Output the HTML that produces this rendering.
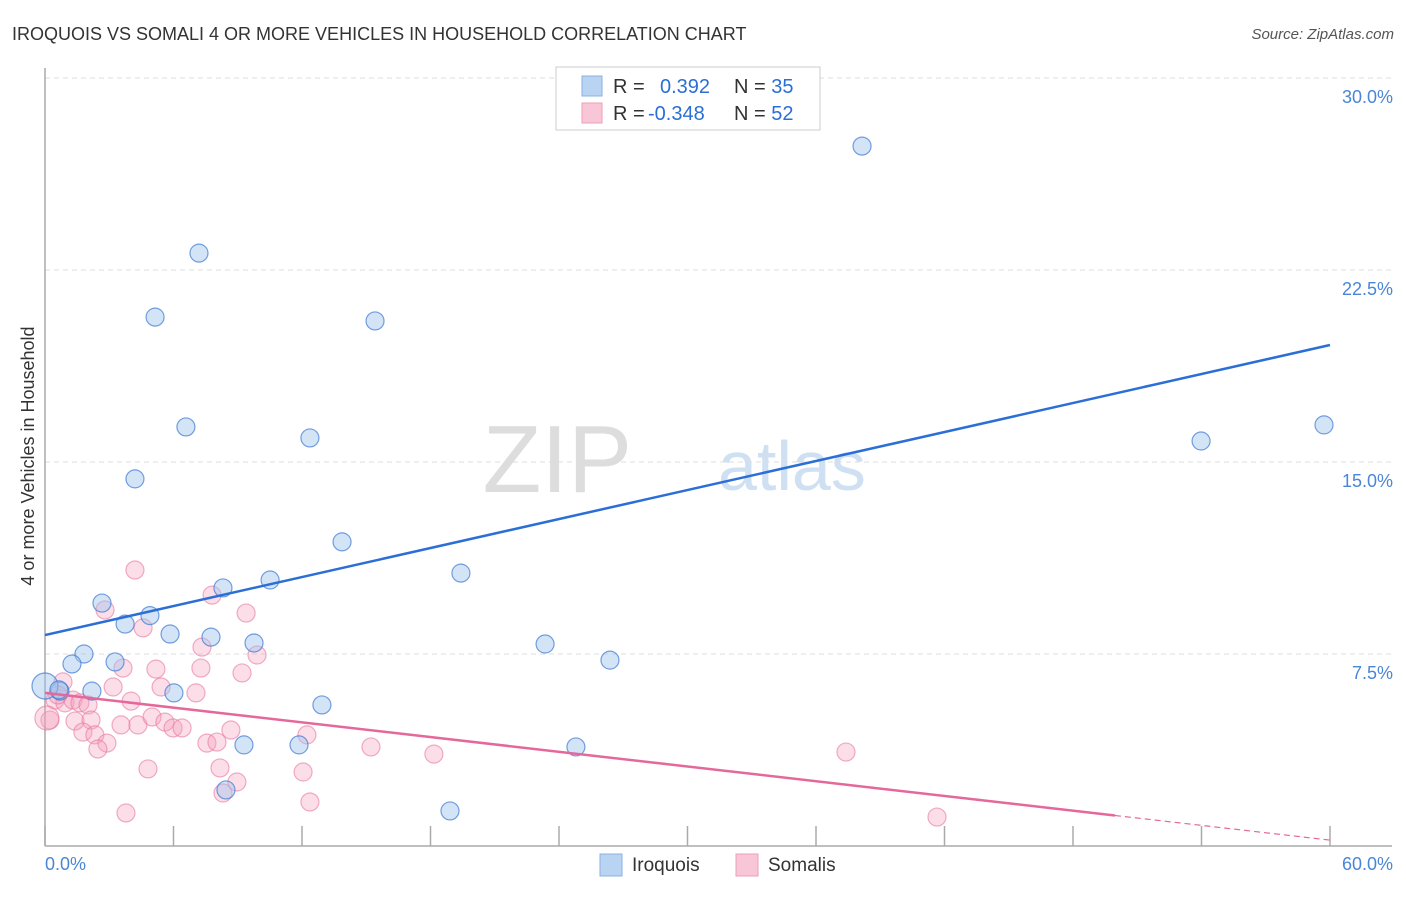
<!DOCTYPE html>
<html><head><meta charset="utf-8"><style>
body{margin:0;background:#fff;font-family:"Liberation Sans",sans-serif}
svg text{font-family:"Liberation Sans",sans-serif}
</style></head><body>
<svg id="chart" width="1406" height="892">
<text x="12" y="40" font-size="18" fill="#333">IROQUOIS VS SOMALI 4 OR MORE VEHICLES IN HOUSEHOLD CORRELATION CHART</text>
<text x="1394" y="39" font-size="15" fill="#555" text-anchor="end" font-style="italic">Source: ZipAtlas.com</text>
<text x="632" y="492" font-size="96" fill="#ddd" text-anchor="end" font-family="Liberation Serif">ZIP</text>
<text x="718" y="490" font-size="70" fill="#cfe0f3">atlas</text>
<text transform="translate(34,456) rotate(-90)" font-size="18" fill="#333" text-anchor="middle">4 or more Vehicles in Household</text>
<g id="grid"></g><g id="axes"></g><g id="pts"></g><g id="trends"></g>
<g>
<rect x="556" y="67" width="264" height="63" fill="#fff" stroke="#ccc"/>
<rect x="582" y="76" width="20" height="20" fill="#b9d3f3" stroke="#8ab0e0"/>
<rect x="582" y="103" width="20" height="20" fill="#f8c6d6" stroke="#eba0b8"/>
<text x="613" y="93" font-size="20" fill="#333">R = <tspan x="660" fill="#2b6fd6">0.392</tspan><tspan x="734" fill="#333">N = </tspan><tspan fill="#2b6fd6">35</tspan></text>
<text x="613" y="120" font-size="20" fill="#333">R = <tspan x="648" fill="#2b6fd6">-0.348</tspan><tspan x="734" fill="#333">N = </tspan><tspan fill="#2b6fd6">52</tspan></text>
</g>
<g>
<rect x="600" y="854" width="22" height="22" fill="#b9d3f3" stroke="#8ab0e0"/>
<text x="632" y="871" font-size="19" fill="#333">Iroquois</text>
<rect x="736" y="854" width="22" height="22" fill="#f8c6d6" stroke="#eba0b8"/>
<text x="768" y="871" font-size="19" fill="#333">Somalis</text>
</g>
</svg>
<script>
const yTicks=[7.5,15,22.5,30];
const yTickLabels=["7.5%","15.0%","22.5%","30.0%"];
const xTicks=[0,6,12,18,24,30,36,42,48,54,60];
const xEndLabels=["0.0%","60.0%"];
const iroquoisX=[38.15,7.19,5.14,15.41,6.58,12.37,53.98,59.72,4.20,13.87,19.42,10.51,8.31,2.66,4.90,3.74,5.84,7.75,9.76,23.35,1.82,1.26,3.27,26.38,2.19,6.02,0.70,12.93,9.29,11.86,24.79,8.45,18.91,0,0.65];
const iroquoisY=[27.34,23.16,20.66,20.51,16.37,15.94,15.82,16.45,14.34,11.88,10.66,10.39,10.08,9.49,9.0,8.67,8.28,8.16,7.93,7.89,7.50,7.11,7.19,7.26,6.05,5.98,6.05,5.51,3.95,3.95,3.87,2.19,1.37,6.25,6.1];
const somaliX=[4.20,2.80,4.58,7.80,9.39,7.33,9.90,3.64,5.18,7.28,9.20,0.84,3.18,5.42,7.05,4.02,0.47,0.93,1.31,1.63,2.01,0.23,1.40,2.15,3.55,4.34,5.00,5.60,5.98,6.40,1.77,2.33,2.89,2.47,7.56,8.03,8.68,12.23,15.22,4.81,8.17,12.05,8.96,8.31,12.37,3.78,18.16,37.40,41.65,0.09,0.6];
const somaliY=[10.78,9.22,8.52,9.80,9.10,7.77,7.46,6.95,6.91,6.95,6.76,6.41,6.21,6.21,5.98,5.66,5.70,5.59,5.70,5.59,5.51,4.92,4.88,4.92,4.73,4.73,5.04,4.84,4.61,4.61,4.45,4.34,4.02,3.79,4.02,4.06,4.53,4.34,3.87,3.01,3.05,2.89,2.50,2.07,1.72,1.29,3.59,3.67,1.13,5.0,5.9];
const iroquoisTrend=[8.24,19.57];
const somaliTrend=[5.98,0.23];
const somaliSolidEnd=49.96;

const NS="http://www.w3.org/2000/svg";
const X=v=>45+v/60*1285;
const Y=v=>846-v/7.5*192;
function mk(tag,attrs,parent){const e=document.createElementNS(NS,tag);for(const k in attrs)e.setAttribute(k,attrs[k]);document.getElementById(parent).appendChild(e);return e;}

yTicks.forEach((t,i)=>{
  const g=mk('line',{x1:45,x2:1392,y1:Y(t),y2:Y(t),stroke:'#ddd','stroke-dasharray':'5,4'},'grid');
  
  
  const tx=mk('text',{x:1393,y:Y(t)+25,'font-size':18,fill:'#4a86d8','text-anchor':'end'},'grid');
  tx.textContent=yTickLabels[i];
  
  
});
let a=mk('line',{x1:45,x2:45,y1:68,y2:846,stroke:'#aaa','stroke-width':1.5},'axes');


a=mk('line',{x1:45,x2:1392,y1:846,y2:846,stroke:'#aaa','stroke-width':1.5},'axes');


xTicks.forEach(t=>{
  const l=mk('line',{x1:X(t),x2:X(t),y1:826,y2:846,stroke:'#aaa','stroke-width':1.5},'axes');
  
  
});
[[0,'start',45],[60,'end',1393]].forEach((d,i)=>{
  const tx=mk('text',{x:d[2],y:870,'font-size':18,fill:'#4a86d8','text-anchor':d[1]},'axes');
  tx.textContent=xEndLabels[i];
  
  
});
somaliX.forEach((x,i)=>{
  const c=mk('circle',{cx:X(x),cy:Y(somaliY[i]),r:(i==49?12:9),fill:'rgba(244,160,188,0.35)',stroke:'rgba(232,120,160,0.6)','stroke-width':1.2},'pts');
  
  
});
iroquoisX.forEach((x,i)=>{
  const c=mk('circle',{cx:X(x),cy:Y(iroquoisY[i]),r:(i==33?13:9),fill:'rgba(160,196,238,0.45)',stroke:'rgba(60,120,210,0.7)','stroke-width':1.2},'pts');
  
  
});
let t=mk('line',{x1:X(0),y1:Y(iroquoisTrend[0]),x2:X(60),y2:Y(iroquoisTrend[1]),stroke:'#2b6fd6','stroke-width':2.5},'trends');


const sy=v=>somaliTrend[0]+(somaliTrend[1]-somaliTrend[0])*v/60;
t=mk('line',{x1:X(0),y1:Y(somaliTrend[0]),x2:X(somaliSolidEnd),y2:Y(sy(somaliSolidEnd)),stroke:'#e5689a','stroke-width':2.5},'trends');


t=mk('line',{x1:X(somaliSolidEnd),y1:Y(sy(somaliSolidEnd)),x2:X(60),y2:Y(somaliTrend[1]),stroke:'#e5689a','stroke-width':1.2,'stroke-dasharray':'6,4'},'trends');


</script>
</body></html>
